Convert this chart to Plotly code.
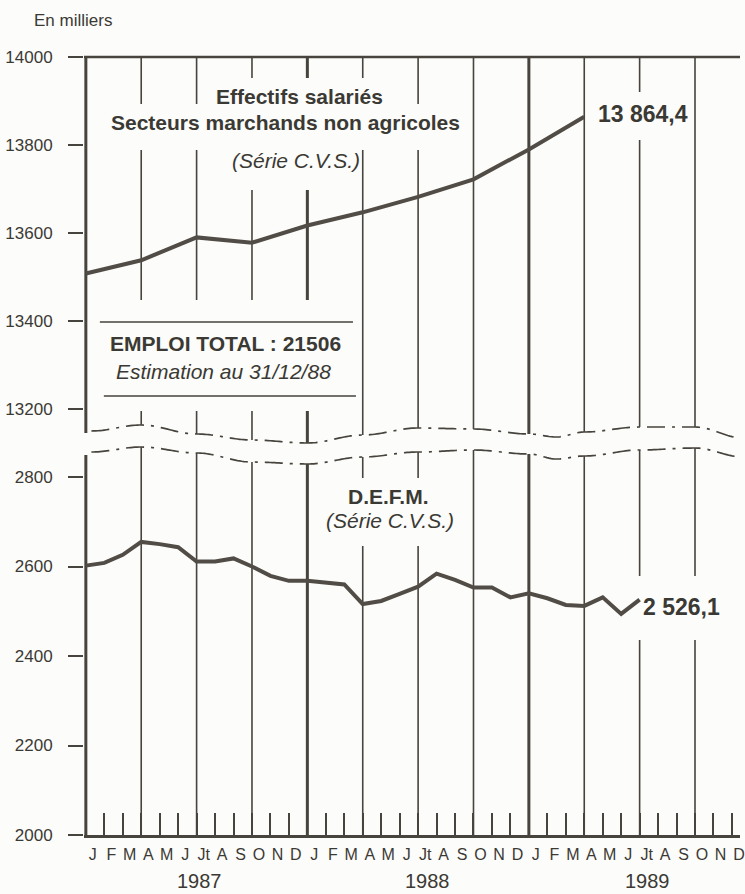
import numpy as np
import plotly.graph_objects as go

# ---------------- data ----------------
month_labels = ["J", "F", "M", "A", "M", "J", "Jt", "A", "S", "O", "N", "D"] * 3
years = ["1987", "1988", "1989"]

# Effectifs salariés (quarterly, month index from Jan 1987)
emploi_months = [0, 3, 6, 9, 12, 15, 18, 21, 24, 27]
emploi_values = [13508, 13538, 13590, 13578, 13617, 13647, 13682, 13722, 13790, 13864.4]

# D.E.F.M. (monthly)
defm_months = list(range(31))
defm_values = [2602, 2608, 2626, 2655, 2650, 2643, 2611, 2611, 2618, 2600,
               2579, 2568, 2568, 2565, 2560, 2516, 2523, 2539, 2555, 2584,
               2570, 2553, 2553, 2531, 2540, 2529, 2514, 2512, 2531, 2494, 2526.1]

# ---------------- geometry helpers ----------------
W, H = 745, 894
ML, MR, MT, MB = 84, 0, 57, 59
PXM = 18.6            # pixels per month
X0 = -0.1
X1 = X0 + (W - ML - MR) / PXM
PH = H - MT - MB


def X(px):
    return (px - ML) / PXM + X0


def Y(py):
    return (H - MB - py) / PH


INK = "#47433d"
LINE = "#514d46"
TXT = "#3b3934"
BG = "#fcfcfa"
FONT = "Liberation Sans, Arial, sans-serif"

fig = go.Figure()
fig.add_trace(go.Scatter(x=emploi_months, y=emploi_values, mode="lines",
                         line=dict(color=LINE, width=4), xaxis="x", yaxis="y",
                         hoverinfo="skip", showlegend=False))
fig.add_trace(go.Scatter(x=defm_months, y=defm_values, mode="lines",
                         line=dict(color=LINE, width=4), xaxis="x", yaxis="y2",
                         hoverinfo="skip", showlegend=False))

# ---------------- axis break waves ----------------
wave_u = [(0.3, 431), (3, 425), (6, 434), (9, 440), (12, 443), (15, 435), (18, 428),
          (21, 429), (24, 434), (25.5, 437), (27, 432), (30, 427), (33, 427), (35.6, 438)]
wave_l = [(0.3, 452), (3, 447), (6, 453), (9, 462), (12, 464), (15, 457), (18, 452),
          (21, 450), (24, 454), (25.5, 459), (27, 456), (30, 450), (33, 448), (35.6, 457)]


def wave_at(anchors, m):
    for (a, ya), (b, yb) in zip(anchors[:-1], anchors[1:]):
        if a <= m <= b:
            t = (m - a) / (b - a)
            return ya + (yb - ya) * (1 - np.cos(np.pi * t)) / 2
    return anchors[0][1] if m < anchors[0][0] else anchors[-1][1]


def wave_path(anchors):
    ms = np.linspace(anchors[0][0], anchors[-1][0], 300)
    pts = [(m, Y(wave_at(anchors, m))) for m in ms]
    return "M " + " L ".join(f"{m:.4f},{y:.5f}" for m, y in pts)


shapes = []
# vertical quarter grid lines (split by the break)
for q in range(0, 36, 3):
    w = 3 if q % 12 == 0 else 1.6
    yu = wave_at(wave_u, max(q, 0.3)) + (2 if q == 0 else 0)
    yl = wave_at(wave_l, max(q, 0.3)) + (3 if q == 0 else 0)
    shapes.append(dict(type="line", xref="x", yref="paper", x0=q, x1=q,
                       y0=Y(yu), y1=1, line=dict(color=INK, width=w), layer="below"))
    shapes.append(dict(type="line", xref="x", yref="paper", x0=q, x1=q,
                       y0=0, y1=Y(yl), line=dict(color=INK, width=w), layer="below"))

for anchors in (wave_u, wave_l):
    shapes.append(dict(type="path", xref="x", yref="paper", path=wave_path(anchors),
                       line=dict(color=INK, width=1.7, dash="18px,7px,3px,7px"),
                       layer="below"))

# top border
shapes.append(dict(type="line", xref="paper", yref="paper", x0=0, x1=1, y0=1, y1=1,
                   line=dict(color=INK, width=2.5), layer="below"))


def mask(x0, x1, y0, y1):
    shapes.append(dict(type="rect", xref="x", yref="paper", x0=X(x0), x1=X(x1),
                       y0=Y(y1), y1=Y(y0), fillcolor=BG, line=dict(width=0),
                       layer="below"))


# white areas behind texts
mask(212, 392, 78, 110)
mask(106, 468, 104, 150)
mask(226, 362, 146, 190)
mask(592, 695, 92, 140)
mask(95, 361, 300, 411)
mask(325, 460, 478, 546)
mask(636, 725, 576, 640)

# EMPLOI TOTAL rules
for (xa, xb, yy) in [(100, 355, 322), (104, 358, 396)]:
    shapes.append(dict(type="line", xref="x", yref="paper", x0=X(xa), x1=X(xb),
                       y0=Y(yy), y1=Y(yy), line=dict(color=INK, width=1.6),
                       layer="below"))

annotations = []


def txt(s, px, py, size=21, bold=False, anchor="center"):
    annotations.append(dict(text=s, x=X(px), y=Y(py), xref="x", yref="paper",
                            showarrow=False, xanchor=anchor, yanchor="middle",
                            font=dict(family=FONT, size=size, color=TXT,
                                      weight="bold" if bold else "normal")))


txt("Effectifs salariés", 301, 97, bold=True)
txt("Secteurs marchands non agricoles", 287, 122, bold=True)
txt("<i>(Série C.V.S.)</i>", 298, 160)
txt(f"{emploi_values[-1]:,.1f}".replace(",", " ").replace(".", ","), 600, 114,
    size=23, bold=True, anchor="left")
txt("EMPLOI TOTAL : 21506", 227, 343, bold=True)
txt("<i>Estimation au 31/12/88</i>", 225, 372)
txt("D.E.F.M.", 391, 496, bold=True)
txt("<i>(Série C.V.S.)</i>", 392, 520)
txt(f"{defm_values[-1]:,.1f}".replace(",", " ").replace(".", ","), 645, 607,
    size=23, bold=True, anchor="left")
for yr, cx in zip(years, [200, 430, 652]):
    txt(yr, cx, 881, size=20)

annotations.append(dict(text="En milliers", x=(32 - ML) / (W - ML - MR), y=Y(21),
                        xref="paper", yref="paper", showarrow=False,
                        xanchor="left", yanchor="middle",
                        font=dict(family=FONT, size=17, color=TXT)))

fig.update_layout(
    width=W, height=H,
    margin=dict(l=ML, r=MR, t=MT, b=MB, pad=0),
    paper_bgcolor=BG, plot_bgcolor=BG,
    showlegend=False,
    shapes=shapes, annotations=annotations,
    xaxis=dict(range=[X0, X1], anchor="y2", tickmode="array",
               tickvals=list(range(36)), ticktext=month_labels,
               ticks="inside", ticklen=22, tickwidth=1.5, tickcolor=INK,
               showline=True, linecolor=INK, linewidth=2.5,
               showgrid=False, zeroline=False, ticklabelshift=7,
               ticklabelstandoff=3, ticklabeloverflow="allow",
               tickfont=dict(family=FONT, size=16, color=TXT)),
    yaxis=dict(domain=[Y(409), 1], range=[13200, 14000], anchor="x",
               tickvals=[13200, 13400, 13600, 13800, 14000], tickformat="d",
               ticks="outside", ticklen=15, tickwidth=1.5, tickcolor=INK,
               showline=False, showgrid=False, zeroline=False,
               ticklabelstandoff=12,
               tickfont=dict(family=FONT, size=17, color=TXT)),
    yaxis2=dict(domain=[0, Y(477)], range=[2000, 2800], anchor="x",
                tickvals=[2000, 2200, 2400, 2600, 2800], tickformat="d",
                ticks="outside", ticklen=15, tickwidth=1.5, tickcolor=INK,
                showline=False, showgrid=False, zeroline=False,
                ticklabelstandoff=12,
                tickfont=dict(family=FONT, size=17, color=TXT)),
)

fig.write_html("out.html", config={"displayModeBar": False},
               post_script="document.body.style.margin='0';document.body.style.padding='0';")
